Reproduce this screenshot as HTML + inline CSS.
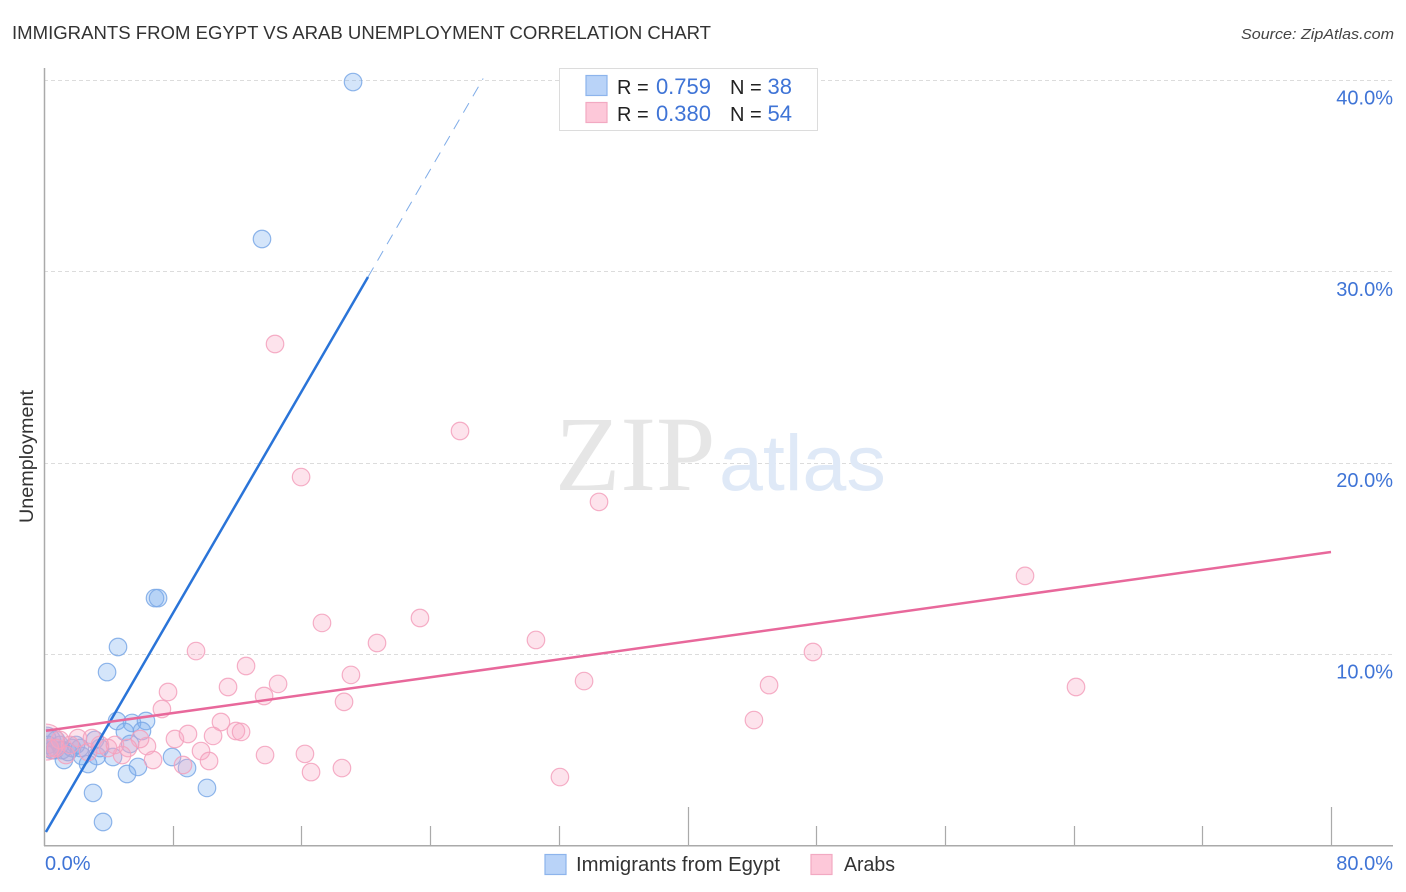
<!DOCTYPE html>
<html lang="en">
<head>
<meta charset="utf-8">
<title>Immigrants from Egypt vs Arab Unemployment Correlation Chart</title>
<style>
html,body{margin:0;padding:0;background:#fff;}
svg{display:block;font-family:"Liberation Sans",sans-serif;}
</style>
</head>
<body>
<svg id="chart" width="1406" height="892" viewBox="0 0 1406 892" xmlns="http://www.w3.org/2000/svg">
  <defs>
    <clipPath id="plot-clip"><rect x="46" y="60" width="1348" height="785"/></clipPath>
  </defs>
  <rect width="1406" height="892" fill="#fff"/>
  <text x="12" y="39" font-size="18.5" fill="#333" textLength="699" lengthAdjust="spacingAndGlyphs">IMMIGRANTS FROM EGYPT VS ARAB UNEMPLOYMENT CORRELATION CHART</text>
  <text x="1394" y="39" font-size="15" font-style="italic" fill="#444" text-anchor="end" textLength="153" lengthAdjust="spacingAndGlyphs">Source: ZipAtlas.com</text>
  <g id="grid"></g>
  <g>
    <text x="555" y="490" font-family="'Liberation Serif',serif" font-size="107" fill="#e6e6e6">ZIP</text>
    <text x="719" y="490" font-size="79" fill="#dfe9f7">atlas</text>
  </g>
  <g id="axes"></g>
  <g id="points" clip-path="url(#plot-clip)"></g>
  <g id="trends"></g>
  <g id="tick-labels"></g>
  <text transform="translate(33,456.5) rotate(-90)" font-size="19" fill="#333" text-anchor="middle" textLength="133" lengthAdjust="spacingAndGlyphs">Unemployment</text>

  <g>
    <rect x="559.5" y="68.5" width="258" height="62" fill="#fff" stroke="#dcdcdc" stroke-width="1"/>
    <rect x="586" y="75.5" width="21" height="20" fill="#b9d3f8" stroke="#8db4ec" stroke-width="1.2"/>
    <rect x="586" y="102.5" width="21" height="20" fill="#fdc8d9" stroke="#f2a9c2" stroke-width="1.2"/>
    <text x="617" y="94" font-size="20" fill="#222">R =</text>
    <text x="711" y="94" font-size="22" fill="#3f74d6" text-anchor="end">0.759</text>
    <text x="730" y="94" font-size="20" fill="#222">N =</text>
    <text x="792" y="94" font-size="22" fill="#3f74d6" text-anchor="end">38</text>
    <text x="617" y="121" font-size="20" fill="#222">R =</text>
    <text x="711" y="121" font-size="22" fill="#3f74d6" text-anchor="end">0.380</text>
    <text x="730" y="121" font-size="20" fill="#222">N =</text>
    <text x="792" y="121" font-size="22" fill="#3f74d6" text-anchor="end">54</text>
  </g>

  <g>
    <g>
      <rect x="545" y="854.5" width="21" height="20" fill="#b9d3f8" stroke="#8db4ec" stroke-width="1.2"/>
      <text x="576" y="871" font-size="20" fill="#333" textLength="204" lengthAdjust="spacingAndGlyphs">Immigrants from Egypt</text>
    </g>
    <g>
      <rect x="811" y="854.5" width="21" height="20" fill="#fdc8d9" stroke="#f2a9c2" stroke-width="1.2"/>
      <text x="844" y="871" font-size="20" fill="#333" textLength="51" lengthAdjust="spacingAndGlyphs">Arabs</text>
    </g>
  </g>
</svg>
<script>
const egyptX = [19.21,13.55,6.90,7.09,4.60,3.92,4.54,5.47,6.34,5.03,6.09,5.35,3.17,4.29,3.29,2.36,2.74,5.84,5.16,7.96,8.89,10.13,3.05,3.67,1.24,0.12,0.68,0.99,1.74,2.24,3.48,0.50,0.19,0.25,1.49,1.99,0.75,1.12];
const egyptY = [39.93,31.72,12.94,12.94,10.38,9.07,6.51,6.41,6.51,5.94,5.99,5.31,5.52,4.63,4.68,4.68,4.26,4.11,3.74,4.63,4.05,3.01,2.75,1.23,4.47,5.41,4.99,5.26,5.10,5.10,5.10,4.99,5.62,5.26,4.89,5.26,5.52,4.99];
const arabX = [14.36,25.86,15.98,34.50,60.98,23.37,17.28,30.58,20.70,9.45,47.80,12.56,19.08,33.57,14.55,45.07,64.15,7.71,11.44,13.68,18.65,7.33,44.13,11.00,11.93,12.25,8.14,8.95,10.51,9.76,10.26,13.74,16.22,16.60,18.52,32.07,8.64,6.78,6.40,5.97,5.22,4.85,3.98,3.48,2.74,2.11,1.62,0.99,0.37,0.12,2.98,1.37,0.75,4.41];
const arabY = [26.23,21.68,19.27,17.97,14.10,11.90,11.64,10.75,10.59,10.17,10.12,9.39,8.92,8.60,8.45,8.39,8.29,8.03,8.29,7.82,7.51,7.14,6.56,6.46,5.99,5.94,5.57,5.83,5.73,4.94,4.42,4.73,4.79,3.84,4.05,3.58,4.21,4.47,5.20,5.57,5.10,4.73,5.10,5.26,4.89,5.62,5.26,5.52,5.10,5.41,5.62,4.73,5.10,5.26];
const egyptTrend = {intercept: 0.53, slope: 1.45, solidEnd: 20.14, dashEnd: 27.3};
const arabTrend = {intercept: 5.99, slope: 0.117, solidEnd: 80};
const xTicks = [8,16,24,32,40,48,56,64,72,80];
const xMajorTicks = [40,80];
const xTickLabels = ["0.0%","80.0%"];
const yTicks = [10,20,30,40];
const yTickLabels = ["10.0%","20.0%","30.0%","40.0%"];
const largeEgyptIndex = 25;
const largeArabIndex = 49;

const NS = "http://www.w3.org/2000/svg";
const xScale = v => 44 + v * 16.0875;
const yScale = v => 845.5 - v * 19.12;
function make(parent, tag, props) {
  const el = document.createElementNS(NS, tag);
  for (const k in props) el.setAttribute(k, props[k]);
  parent.appendChild(el);
  return el;
}
const gridG = document.getElementById("grid");
const axesG = document.getElementById("axes");
const ptsG = document.getElementById("points");
const trendG = document.getElementById("trends");
const labelG = document.getElementById("tick-labels");

yTicks.forEach((t, i) => {
  const y = Math.floor(yScale(t)) + 0.5;
  const line = make(gridG, "line", {x1: 44, x2: 1393, y1: y, y2: y, stroke: "#dcdcdc", "stroke-width": 1, "stroke-dasharray": "4 3"});
  
  
  const txt = make(labelG, "text", {x: 1393, y: yScale(t) + 24, "font-size": 20, fill: "#3f74d6", "text-anchor": "end"});
  txt.textContent = yTickLabels[i];
  
  
});

const yAxis = make(axesG, "line", {x1: 44.5, x2: 44.5, y1: 68, y2: 846, stroke: "#aaa", "stroke-width": 1.5});


const xAxis = make(axesG, "line", {x1: 44, x2: 1393, y1: 845.75, y2: 845.75, stroke: "#aaa", "stroke-width": 1.5});


xTicks.forEach(t => {
  const x = Math.round(xScale(t)) + 0.5;
  const top = xMajorTicks.includes(t) ? 807 : 826;
  const tick = make(axesG, "line", {x1: x, x2: x, y1: top, y2: 846, stroke: "#aaa", "stroke-width": 1.2});
  
  
});
const xLabelLeft = make(labelG, "text", {x: 45, y: 870, "font-size": 20, fill: "#3f74d6"});
xLabelLeft.textContent = xTickLabels[0];


const xLabelRight = make(labelG, "text", {x: 1393, y: 870, "font-size": 20, fill: "#3f74d6", "text-anchor": "end"});
xLabelRight.textContent = xTickLabels[1];



egyptX.forEach((v, i) => {
  const c = make(ptsG, "circle", {cx: xScale(v), cy: yScale(egyptY[i]), r: i === largeEgyptIndex ? 15 : 8.75, fill: "#7aaef0", "fill-opacity": 0.32, stroke: "#7aa8e6", "stroke-opacity": 0.85, "stroke-width": 1.2});
  
  
});
arabX.forEach((v, i) => {
  const c = make(ptsG, "circle", {cx: xScale(v), cy: yScale(arabY[i]), r: i === largeArabIndex ? 18 : 8.75, fill: "#f8a8c4", "fill-opacity": 0.32, stroke: "#f3a0bc", "stroke-opacity": 0.85, "stroke-width": 1.2});
  
  
});

const trendY = (tr, x) => tr.intercept + tr.slope * x;
const egyptDash = make(trendG, "line", {x1: xScale(egyptTrend.solidEnd), y1: yScale(trendY(egyptTrend, egyptTrend.solidEnd)), x2: xScale(egyptTrend.dashEnd), y2: yScale(trendY(egyptTrend, egyptTrend.dashEnd)), stroke: "#2a74d8", "stroke-opacity": 0.6, "stroke-width": 1, "stroke-dasharray": "11 8"});


const egyptLine = make(trendG, "line", {x1: xScale(0.12), y1: yScale(trendY(egyptTrend, 0.12)), x2: xScale(egyptTrend.solidEnd), y2: yScale(trendY(egyptTrend, egyptTrend.solidEnd)), stroke: "#2a74d8", "stroke-width": 2.5});


const arabLine = make(trendG, "line", {x1: xScale(0.12), y1: yScale(trendY(arabTrend, 0.12)), x2: xScale(arabTrend.solidEnd), y2: yScale(trendY(arabTrend, arabTrend.solidEnd)), stroke: "#e8689b", "stroke-width": 2.5});


</script>
</body>
</html>
